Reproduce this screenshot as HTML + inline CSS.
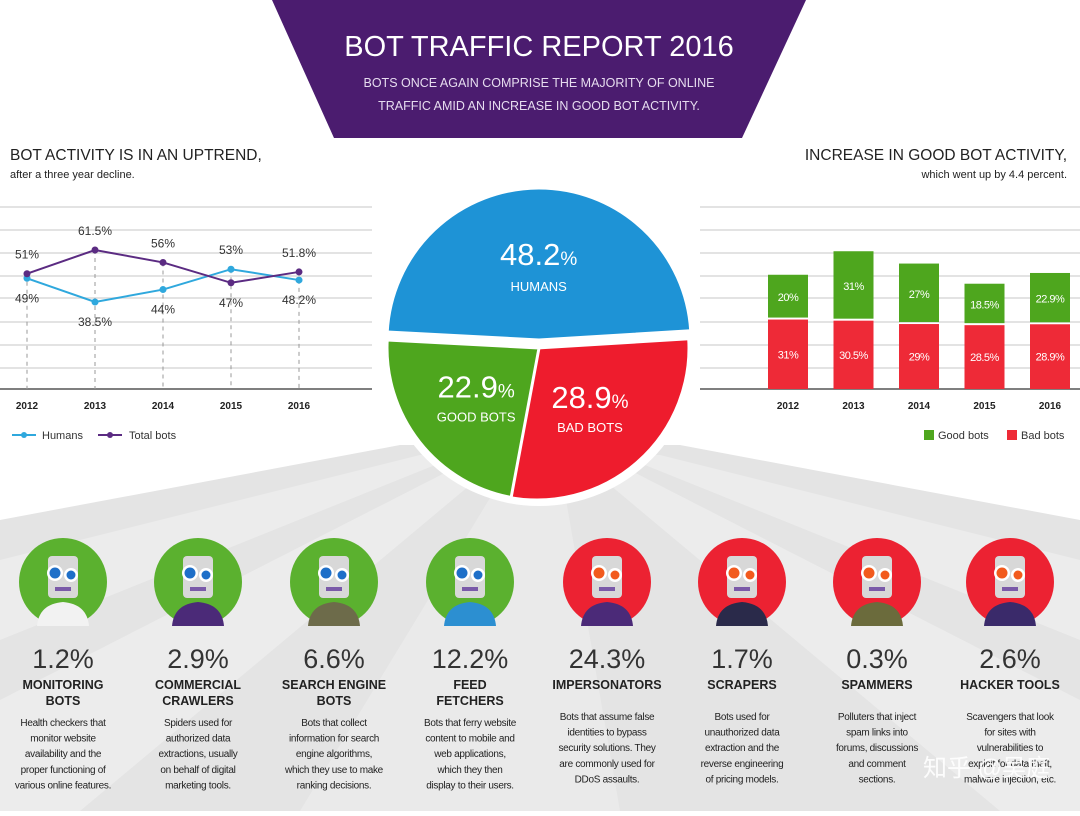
<!DOCTYPE html>
<html><head><meta charset="utf-8">
<style>
html,body{margin:0;padding:0;}
body{width:1080px;height:811px;overflow:hidden;background:#fff;font-family:"Liberation Sans","Noto Sans CJK SC",sans-serif;}
svg text{font-family:"Liberation Sans","Noto Sans CJK SC",sans-serif;}
</style></head>
<body>
<svg id="root" width="1080" height="811" viewBox="0 0 1080 811" xmlns="http://www.w3.org/2000/svg">
  <g>
    <rect x="0" y="0" width="1080" height="811" fill="#ffffff"/>
    <polygon points="0,520 400,445 680,445 1080,520 1080,811 0,811" fill="#e4e4e4"/>
    <polygon points="0,560 420,455 460,455 0,640" fill="#ececec"/>
    <polygon points="0,700 470,460 500,460 80,811 0,811" fill="#ececec"/>
    <polygon points="300,811 510,465 560,465 620,811" fill="#eaeaea"/>
    <polygon points="1080,560 660,455 620,455 1080,640" fill="#ececec"/>
    <polygon points="1080,700 610,460 580,460 1000,811 1080,811" fill="#ececec"/>
  </g>
  <g>
    <polygon points="272,0 806,0 742,138 334,138" fill="#4b1c6f"/>
    <text x="539" y="56" text-anchor="middle" font-size="29" fill="#fff">BOT TRAFFIC REPORT 2016</text>
    <text x="539" y="87" text-anchor="middle" font-size="12.5" fill="#e6dcef">BOTS ONCE AGAIN COMPRISE THE MAJORITY OF ONLINE</text>
    <text x="539" y="110" text-anchor="middle" font-size="12.5" fill="#e6dcef">TRAFFIC AMID AN INCREASE IN GOOD BOT ACTIVITY.</text>
  </g>
  <g>
    <text x="10" y="160" font-size="15.5" fill="#222">BOT ACTIVITY IS IN AN UPTREND,</text>
    <text x="10" y="178" font-size="11" fill="#222">after a three year decline.</text>
  </g>
  <g>
    <text x="1067" y="160" text-anchor="end" font-size="15.5" fill="#222">INCREASE IN GOOD BOT ACTIVITY,</text>
    <text x="1067" y="178" text-anchor="end" font-size="11" fill="#222">which went up by 4.4 percent.</text>
  </g>
  <g id="lineChart"></g>
  <g id="barChart"></g>
  <g id="pie"></g>
  <g id="cards"></g>
  <text x="1050" y="776" text-anchor="end" font-size="24" fill="#ffffff" opacity="0.9">知乎 @吴庭</text>
</svg>
<script>
const NS='http://www.w3.org/2000/svg';
function mk(tag,attrs,parent,txt){const e=document.createElementNS(NS,tag);for(const k in attrs)e.setAttribute(k,attrs[k]);if(txt!==undefined)e.textContent=txt;parent.appendChild(e);return e;}

// ---- data ----
const years=['2012','2013','2014','2015','2016'];
const humans=[49,38.5,44,53,48.2];
const totalBots=[51,61.5,56,47,51.8];
const goodBots=[20,31,27,18.5,22.9];
const badBots=[31,30.5,29,28.5,28.9];
const pieLabels=['HUMANS','GOOD BOTS','BAD BOTS'];
const pieValues=[48.2,22.9,28.9];
const botNames=[['MONITORING','BOTS'],['COMMERCIAL','CRAWLERS'],['SEARCH ENGINE','BOTS'],['FEED','FETCHERS'],['IMPERSONATORS'],['SCRAPERS'],['SPAMMERS'],['HACKER TOOLS']];
const botShares=['1.2%','2.9%','6.6%','12.2%','24.3%','1.7%','0.3%','2.6%'];
const botDescs=[
['Health checkers that','monitor website','availability and the','proper functioning of','various online features.'],
['Spiders used for','authorized data','extractions, usually','on behalf of digital','marketing tools.'],
['Bots that collect','information for search','engine algorithms,','which they use to make','ranking decisions.'],
['Bots that ferry website','content to mobile and','web applications,','which they then','display to their users.'],
['Bots that assume false','identities to bypass','security solutions. They','are commonly used for','DDoS assaults.'],
['Bots used for','unauthorized data','extraction and the','reverse engineering','of pricing models.'],
['Polluters that inject','spam links into','forums, discussions','and comment','sections.'],
['Scavengers that look','for sites with','vulnerabilities to','exploit for data theft,','malware injection, etc.']];

// ---- line chart ----
const lc=document.getElementById('lineChart');
const base=389, ppu=2.26;
const lx=i=>27+i*68, ly=v=>base-v*ppu;
[207,230,253,276,298,322,345,368].forEach(y=>{const l=mk('line',{x1:0,x2:372,y1:y,y2:y,stroke:'#e3e3e3','stroke-width':2},lc);});
const ax=mk('line',{x1:0,x2:372,y1:base,y2:base,stroke:'#555','stroke-width':1.5},lc);

years.forEach((yr,i)=>{
  const top=Math.min(ly(humans[i]),ly(totalBots[i]));
  const d=mk('line',{x1:lx(i),x2:lx(i),y1:top,y2:base,stroke:'#999','stroke-dasharray':'4,4','stroke-width':1},lc);
  
  const t=mk('text',{x:lx(i),y:409,'text-anchor':'middle','font-size':10,'font-weight':'bold',fill:'#222'},lc,yr);
  
});
function series(vals,color,name){
  const p=mk('polyline',{points:vals.map((v,i)=>lx(i)+','+ly(v)).join(' '),fill:'none',stroke:color,'stroke-width':2},lc);
  
  vals.forEach((v,i)=>{
    const c=mk('circle',{cx:lx(i),cy:ly(v),r:3.5,fill:color},lc);
    
    const other=name==='humans'?totalBots[i]:humans[i];
    const up=v>other;
    const t=mk('text',{x:lx(i),y:up?ly(v)-15:ly(v)+24,'text-anchor':'middle','font-size':12,fill:'#333'},lc,(Math.round(v*10)/10)+'%');
    
  });
}
series(humans,'#2fa8dd','humans');
series(totalBots,'#5b2b82','total-bots');
const lg=mk('g',{},lc);
mk('line',{x1:12,x2:36,y1:435,y2:435,stroke:'#2fa8dd','stroke-width':2},lg);mk('circle',{cx:24,cy:435,r:3,fill:'#2fa8dd'},lg);
mk('text',{x:42,y:439,'font-size':11,fill:'#333'},lg,'Humans');
mk('line',{x1:98,x2:122,y1:435,y2:435,stroke:'#5b2b82','stroke-width':2},lg);mk('circle',{cx:110,cy:435,r:3,fill:'#5b2b82'},lg);
mk('text',{x:129,y:439,'font-size':11,fill:'#333'},lg,'Total bots');

// ---- bar chart ----
const bc=document.getElementById('barChart');
const bppu=2.24, bx=i=>788+i*65.5, bw=40;
[207,230,253,276,298,322,345,368].forEach(y=>{const l=mk('line',{x1:700,x2:1080,y1:y,y2:y,stroke:'#e3e3e3','stroke-width':2},bc);});
const bax=mk('line',{x1:700,x2:1080,y1:base,y2:base,stroke:'#555','stroke-width':1.5},bc);

years.forEach((yr,i)=>{
  const hb=badBots[i]*bppu, hg=goodBots[i]*bppu;
  const r1=mk('rect',{x:bx(i)-bw/2,y:base-hb,width:bw,height:hb,fill:'#ee2a37'},bc);
  
  const r2=mk('rect',{x:bx(i)-bw/2,y:base-hb-hg,width:bw,height:hg-2,fill:'#4ea61e'},bc);
  
  const t1=mk('text',{x:bx(i),y:base-hb/2+4,'text-anchor':'middle','font-size':11,fill:'#fff','letter-spacing':'-0.5'},bc,badBots[i]+'%');
  
  const t2=mk('text',{x:bx(i),y:base-hb-hg/2+4,'text-anchor':'middle','font-size':11,fill:'#fff','letter-spacing':'-0.5'},bc,goodBots[i]+'%');
  
  const t=mk('text',{x:bx(i),y:409,'text-anchor':'middle','font-size':10,'font-weight':'bold',fill:'#222'},bc,yr);
  
});
const blg=mk('g',{},bc);
mk('rect',{x:924,y:430,width:10,height:10,fill:'#4ea61e'},blg);mk('text',{x:938,y:439,'font-size':11,fill:'#333'},blg,'Good bots');
mk('rect',{x:1007,y:430,width:10,height:10,fill:'#ee2a37'},blg);mk('text',{x:1021,y:439,'font-size':11,fill:'#333'},blg,'Bad bots');

// ---- pie ----
const pie=document.getElementById('pie');
const cx=539,cy=347,R=152;
mk('circle',{cx:cx,cy:cy,r:R+7,fill:'#fff'},pie);
const pieColors=['#1e93d6','#4ea61e','#ee1c2d'];
const total=pieValues.reduce((a,b)=>a+b,0);
const order=[0,2,1];
let ang=183;
const offs=[[0,-7],[0,1],[-2,1]];
order.forEach(k=>{
  const sweep=pieValues[k]/total*360;
  const a0=ang*Math.PI/180,a1=(ang+sweep)*Math.PI/180;
  const ox=offs[k][0],oy=offs[k][1];
  const x0=cx+ox+R*Math.cos(a0),y0=cy+oy+R*Math.sin(a0),x1=cx+ox+R*Math.cos(a1),y1=cy+oy+R*Math.sin(a1);
  const p=mk('path',{d:`M${cx+ox},${cy+oy} L${x0},${y0} A${R},${R} 0 ${sweep>180?1:0} 1 ${x1},${y1} Z`,fill:pieColors[k],stroke:'#fff','stroke-width':3},pie);
  
  
  const mid=(ang+sweep/2)*Math.PI/180, lr=k===0?75:80;
  const tx=cx+ox+lr*Math.cos(mid), ty=cy+oy+lr*Math.sin(mid);
  const t=mk('text',{x:tx,y:ty+(k===0?0:0),'text-anchor':'middle',fill:'#fff','font-size':31},pie);
  
  mk('tspan',{},t,pieValues[k]);mk('tspan',{'font-size':19},t,'%');
  const l=mk('text',{x:tx,y:ty+(k===0?26:24),'text-anchor':'middle',fill:'#fff','font-size':13},pie,pieLabels[k]);
  
  ang+=sweep;
});

// ---- bot cards ----
const cards=document.getElementById('cards');
const cxs=[63,198,334,470,607,742,877,1010];
cxs.forEach((x,i)=>{
  const g=mk('g',{},cards);
  const good=i<4;
  const c=mk('circle',{cx:x,cy:582,r:44,fill:good?'#5bb12f':'#ec2232'},g);
  
  const bodyCol=['#f2f2f2','#4b2a78','#6d6b4a','#2c8fd1','#4b2a78','#2a2a4a','#6b6b3c','#3a2a6a'][i];
  mk('path',{d:`M${x-26},626 Q${x-24},604 ${x},602 Q${x+24},604 ${x+26},626 Z`,fill:bodyCol},g);
  mk('rect',{x:x-15,y:556,width:30,height:42,rx:4,fill:'#d8d8d8'},g);
  const eye=good?'#1e6fc8':'#f25a1d';
  mk('circle',{cx:x-8,cy:573,r:8,fill:'#fff'},g);mk('circle',{cx:x-8,cy:573,r:5.5,fill:eye},g);
  mk('circle',{cx:x+8,cy:575,r:7,fill:'#fff'},g);mk('circle',{cx:x+8,cy:575,r:4.5,fill:eye},g);
  mk('rect',{x:x-8,y:587,width:16,height:4,fill:'#7a5aa8'},g);
  const pct=mk('text',{x:x,y:668,'text-anchor':'middle','font-size':27,fill:'#333'},g,botShares[i]);
  
  botNames[i].forEach((n,j)=>{const t=mk('text',{x:x,y:689+j*16,'text-anchor':'middle','font-size':12.5,'font-weight':'bold',fill:'#222'},g,n);});
  const dy=botNames[i].length>1?726:720;
  botDescs[i].forEach((d,j)=>{const t=mk('text',{x:x,y:dy+j*15.6,'text-anchor':'middle','font-size':10,fill:'#222','letter-spacing':'-0.3'},g,d);});
});
</script>
</body></html>
